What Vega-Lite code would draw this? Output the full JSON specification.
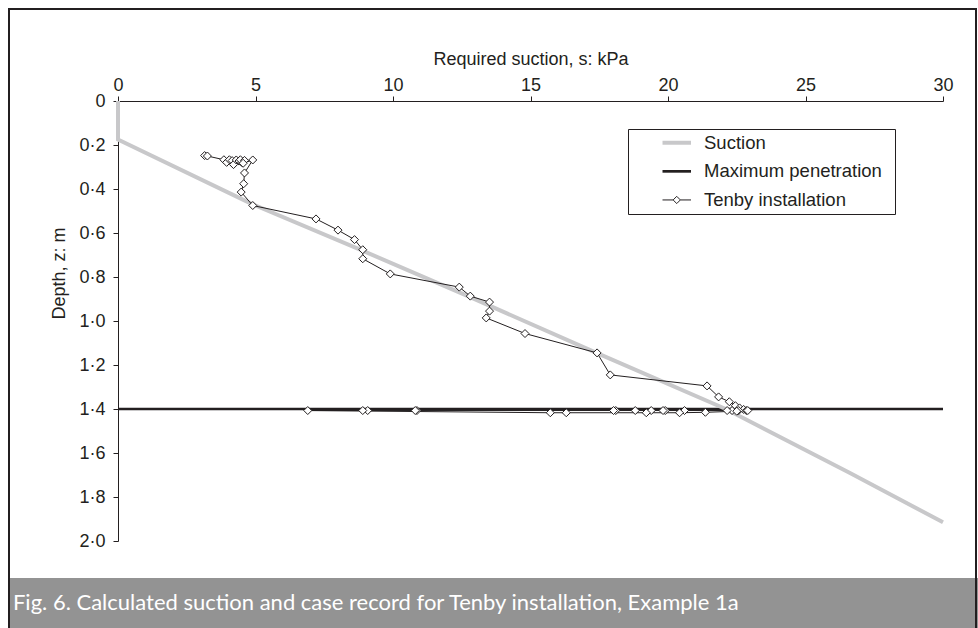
{
  "$schema": "https://vega.github.io/schema/vega-lite/v6.json",
  "width": 825,
  "height": 440,
  "autosize": {"type": "none"},
  "padding": {"left": 118, "top": 101, "right": 35, "bottom": 87},
  "background": "white",
  "config": {"view": {"stroke": null}, "font": "Liberation Sans"},
  "datasets": {
    "suction": [
      {"series": "Suction", "s": 0, "d": 0},
      {"series": "Suction", "s": 0, "d": 0.175},
      {"series": "Suction", "s": 4.9, "d": 0.47},
      {"series": "Suction", "s": 8.7, "d": 0.67},
      {"series": "Suction", "s": 12.6, "d": 0.88},
      {"series": "Suction", "s": 17.4, "d": 1.145},
      {"series": "Suction", "s": 22.1, "d": 1.4},
      {"series": "Suction", "s": 26.6, "d": 1.69},
      {"series": "Suction", "s": 30, "d": 1.915}
    ],
    "maxpen": [
      {"series": "Maximum penetration", "s": 0, "d": 1.4},
      {"series": "Maximum penetration", "s": 30, "d": 1.4}
    ],
    "caption": [
      {"caption": "Fig. 6. Calculated suction and case record for Tenby installation, Example 1a"}
    ],
    "tenby": [
      {"series": "Tenby installation", "i": 1, "s": 3.15, "d": 0.248},
      {"series": "Tenby installation", "i": 2, "s": 3.25, "d": 0.25},
      {"series": "Tenby installation", "i": 3, "s": 3.85, "d": 0.267},
      {"series": "Tenby installation", "i": 4, "s": 3.95, "d": 0.279},
      {"series": "Tenby installation", "i": 5, "s": 4.05, "d": 0.267},
      {"series": "Tenby installation", "i": 6, "s": 4.15, "d": 0.271},
      {"series": "Tenby installation", "i": 7, "s": 4.2, "d": 0.289},
      {"series": "Tenby installation", "i": 8, "s": 4.3, "d": 0.268},
      {"series": "Tenby installation", "i": 9, "s": 4.4, "d": 0.273},
      {"series": "Tenby installation", "i": 10, "s": 4.5, "d": 0.279},
      {"series": "Tenby installation", "i": 11, "s": 4.45, "d": 0.267},
      {"series": "Tenby installation", "i": 12, "s": 4.6, "d": 0.27},
      {"series": "Tenby installation", "i": 13, "s": 4.55, "d": 0.283},
      {"series": "Tenby installation", "i": 14, "s": 4.9, "d": 0.268},
      {"series": "Tenby installation", "i": 15, "s": 4.6, "d": 0.327},
      {"series": "Tenby installation", "i": 16, "s": 4.57, "d": 0.376},
      {"series": "Tenby installation", "i": 17, "s": 4.48, "d": 0.414},
      {"series": "Tenby installation", "i": 18, "s": 4.9, "d": 0.475},
      {"series": "Tenby installation", "i": 19, "s": 7.2, "d": 0.536},
      {"series": "Tenby installation", "i": 20, "s": 8.0, "d": 0.587},
      {"series": "Tenby installation", "i": 21, "s": 8.6, "d": 0.63},
      {"series": "Tenby installation", "i": 22, "s": 8.9, "d": 0.676},
      {"series": "Tenby installation", "i": 23, "s": 8.9, "d": 0.717},
      {"series": "Tenby installation", "i": 24, "s": 9.9, "d": 0.786},
      {"series": "Tenby installation", "i": 25, "s": 12.41, "d": 0.846},
      {"series": "Tenby installation", "i": 26, "s": 12.81, "d": 0.887},
      {"series": "Tenby installation", "i": 27, "s": 13.51, "d": 0.914},
      {"series": "Tenby installation", "i": 28, "s": 13.51, "d": 0.955},
      {"series": "Tenby installation", "i": 29, "s": 13.39, "d": 0.986},
      {"series": "Tenby installation", "i": 30, "s": 14.8, "d": 1.057},
      {"series": "Tenby installation", "i": 31, "s": 17.42, "d": 1.145},
      {"series": "Tenby installation", "i": 32, "s": 17.9, "d": 1.245},
      {"series": "Tenby installation", "i": 33, "s": 21.42, "d": 1.295},
      {"series": "Tenby installation", "i": 34, "s": 21.84, "d": 1.345},
      {"series": "Tenby installation", "i": 35, "s": 22.23, "d": 1.367},
      {"series": "Tenby installation", "i": 36, "s": 22.45, "d": 1.385},
      {"series": "Tenby installation", "i": 37, "s": 22.6, "d": 1.395},
      {"series": "Tenby installation", "i": 38, "s": 22.75, "d": 1.402},
      {"series": "Tenby installation", "i": 39, "s": 22.85, "d": 1.407},
      {"series": "Tenby installation", "i": 40, "s": 22.9, "d": 1.407},
      {"series": "Tenby installation", "i": 41, "s": 22.57, "d": 1.407},
      {"series": "Tenby installation", "i": 42, "s": 22.33, "d": 1.407},
      {"series": "Tenby installation", "i": 43, "s": 22.15, "d": 1.407},
      {"series": "Tenby installation", "i": 44, "s": 20.6, "d": 1.407},
      {"series": "Tenby installation", "i": 45, "s": 19.9, "d": 1.407},
      {"series": "Tenby installation", "i": 46, "s": 19.82, "d": 1.407},
      {"series": "Tenby installation", "i": 47, "s": 19.39, "d": 1.407},
      {"series": "Tenby installation", "i": 48, "s": 18.81, "d": 1.407},
      {"series": "Tenby installation", "i": 49, "s": 18.1, "d": 1.407},
      {"series": "Tenby installation", "i": 50, "s": 18.02, "d": 1.407},
      {"series": "Tenby installation", "i": 51, "s": 10.87, "d": 1.407},
      {"series": "Tenby installation", "i": 52, "s": 10.81, "d": 1.407},
      {"series": "Tenby installation", "i": 53, "s": 9.08, "d": 1.407},
      {"series": "Tenby installation", "i": 54, "s": 8.9, "d": 1.407},
      {"series": "Tenby installation", "i": 55, "s": 6.9, "d": 1.407},
      {"series": "Tenby installation", "i": 56, "s": 15.72, "d": 1.417},
      {"series": "Tenby installation", "i": 57, "s": 16.3, "d": 1.417},
      {"series": "Tenby installation", "i": 58, "s": 19.21, "d": 1.417},
      {"series": "Tenby installation", "i": 59, "s": 20.42, "d": 1.417},
      {"series": "Tenby installation", "i": 60, "s": 21.36, "d": 1.415},
      {"series": "Tenby installation", "i": 61, "s": 22.5, "d": 1.41}
    ]
  },
  "layer": [
    {
      "data": {"name": "maxpen"},
      "mark": {"type": "line", "strokeWidth": 2.7, "strokeCap": "butt"},
      "encoding": {
        "x": {
          "field": "s", "type": "quantitative",
          "scale": {"domain": [0, 30], "nice": false, "zero": false},
          "axis": {
            "orient": "top", "values": [0, 5, 10, 15, 20, 25, 30],
            "title": "Required suction, s: kPa", "grid": false,
            "labelFlush": false, "labelOverlap": false,
            "labelFont": "Liberation Sans", "labelFontSize": 18, "labelColor": "#231f20", "labelPadding": 2,
            "titleFont": "Liberation Sans", "titleFontSize": 18, "titleFontWeight": "normal", "titleColor": "#231f20", "titlePadding": 8,
            "tickSize": 5, "tickColor": "#231f20", "domainColor": "#231f20"
          }
        },
        "y": {
          "field": "d", "type": "quantitative",
          "scale": {"domain": [0, 2], "nice": false, "zero": false, "reverse": true},
          "axis": {
            "orient": "left", "values": [0, 0.2, 0.4, 0.6, 0.8, 1, 1.2, 1.4, 1.6, 1.8, 2],
            "labelExpr": "datum.value === 0 ? '0' : replace(format(datum.value, '.1f'), '.', '·')",
            "title": "Depth, z: m", "grid": false, "labelOverlap": false, "labelFlush": false,
            "labelFont": "Liberation Sans", "labelFontSize": 18, "labelColor": "#231f20", "labelPadding": 8,
            "titleFont": "Liberation Sans", "titleFontSize": 18, "titleFontWeight": "normal", "titleColor": "#231f20", "titlePadding": 10, "titleY": 172,
            "tickSize": 5, "tickColor": "#231f20", "domainColor": "#231f20"
          }
        },
        "color": {
          "field": "series", "type": "nominal",
          "scale": {"domain": ["Suction", "Maximum penetration", "Tenby installation"], "range": ["#c8c8ca", "#231f20", "#231f20"]},
          "legend": {
            "title": " ", "titleOrient": "right", "titlePadding": 9, "titleFontSize": 18,
            "orient": "none", "legendX": 510, "legendY": 28,
            "strokeColor": "#231f20", "fillColor": "white", "padding": 4.5,
            "labelFont": "Liberation Sans", "labelFontSize": 18.5, "labelColor": "#231f20", "labelLimit": 400,
            "symbolSize": 361, "symbolOffset": 35, "labelOffset": 18, "rowPadding": 9.6,
            "encode": {
              "symbols": {
                "update": {
                  "shape": {"signal": "datum.value === 'Tenby installation' ? 'M-1.5,0H-0.38M0.38,0H1.5M0,-0.38L0.38,0L0,0.38L-0.38,0Z' : 'M-1.5,0H1.5'"},
                  "stroke": {"signal": "datum.value === 'Suction' ? '#c8c8ca' : '#231f20'"},
                  "strokeWidth": {"signal": "datum.value === 'Suction' ? 4 : (datum.value === 'Maximum penetration' ? 2.7 : 1)"},
                  "fill": {"signal": "datum.value === 'Tenby installation' ? 'white' : 'transparent'"},
                  "opacity": {"value": 1}
                }
              }
            }
          }
        }
      }
    },
    {
      "data": {"name": "suction"},
      "mark": {"type": "line", "strokeWidth": 4, "strokeCap": "butt"},
      "encoding": {
        "x": {"field": "s", "type": "quantitative"},
        "y": {"field": "d", "type": "quantitative"},
        "order": {"field": "d", "type": "quantitative"},
        "color": {"field": "series", "type": "nominal"}
      }
    },
    {
      "data": {"name": "tenby"},
      "mark": {"type": "line", "strokeWidth": 1},
      "encoding": {
        "x": {"field": "s", "type": "quantitative"},
        "y": {"field": "d", "type": "quantitative"},
        "order": {"field": "i", "type": "quantitative"},
        "color": {"field": "series", "type": "nominal"}
      }
    },
    {
      "data": {"name": "tenby"},
      "mark": {"type": "point", "shape": "diamond", "filled": true, "fill": "white", "stroke": "#231f20", "strokeWidth": 1, "size": 64, "opacity": 1},
      "encoding": {
        "x": {"field": "s", "type": "quantitative"},
        "y": {"field": "d", "type": "quantitative"}
      }
    },
    {
      "data": {"values": [{}]},
      "mark": {"type": "rect", "fill": "#939393"},
      "encoding": {
        "x": {"datum": -3.93, "type": "quantitative"},
        "x2": {"datum": 31.3},
        "y": {"datum": 2.168, "type": "quantitative"},
        "y2": {"datum": 2.43}
      }
    },
    {
      "data": {"values": [{}]},
      "mark": {"type": "rect", "fill": null, "fillOpacity": 0, "stroke": "#231f20", "strokeWidth": 2},
      "encoding": {
        "x": {"datum": -3.9636, "type": "quantitative"},
        "x2": {"datum": 31.2},
        "y": {"datum": -0.4182, "type": "quantitative"},
        "y2": {"datum": 2.45}
      }
    },
    {
      "data": {"name": "caption"},
      "mark": {"type": "text", "align": "left", "baseline": "middle", "font": "Lato", "fontSize": 22, "color": "white"},
      "encoding": {
        "text": {"field": "caption", "type": "nominal"},
        "x": {"datum": -3.82, "type": "quantitative"},
        "y": {"datum": 2.282, "type": "quantitative"}
      }
    }
  ]
}
